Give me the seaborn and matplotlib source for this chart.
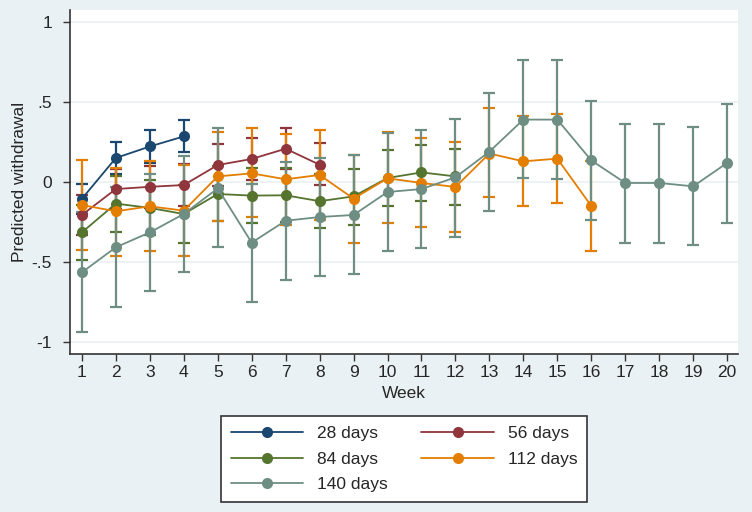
import numpy as np
import pandas as pd
import seaborn as sns
import matplotlib
matplotlib.use('Agg')
import matplotlib.pyplot as plt

sns.set_style('white')
plt.rcParams['font.family'] = ['Liberation Sans', 'DejaVu Sans']

# Predicted withdrawal by week, with 95% CI, for each treatment length
weeks_28 = [1, 2, 3, 4]
mean_28 = [-0.105, 0.15, 0.222, 0.285]
lo_28 = [-0.20, 0.05, 0.12, 0.185]
hi_28 = [-0.012, 0.25, 0.323, 0.387]

weeks_56 = list(range(1, 9))
mean_56 = [-0.206, -0.044, -0.03, -0.019, 0.106, 0.144, 0.208, 0.108]
lo_56 = [-0.33, -0.17, -0.16, -0.148, -0.025, 0.01, 0.08, -0.02]
hi_56 = [-0.08, 0.08, 0.10, 0.11, 0.238, 0.275, 0.337, 0.244]

weeks_84 = list(range(1, 13))
mean_84 = [-0.315, -0.135, -0.162, -0.2, -0.075, -0.085, -0.083, -0.12, -0.09, 0.025, 0.06, 0.035]
lo_84 = [-0.485, -0.31, -0.33, -0.379, -0.246, -0.255, -0.25, -0.29, -0.27, -0.152, -0.117, -0.142]
hi_84 = [-0.145, 0.04, 0.01, -0.02, 0.1, 0.085, 0.085, 0.05, 0.081, 0.198, 0.231, 0.208]

weeks_112 = list(range(1, 17))
mean_112 = [-0.144, -0.183, -0.152, -0.179, 0.035, 0.054, 0.017, 0.044, -0.104, 0.023, -0.006, -0.031,
            0.178, 0.129, 0.146, -0.15]
lo_112 = [-0.423, -0.46, -0.43, -0.465, -0.246, -0.22, -0.27, -0.24, -0.383, -0.256, -0.283, -0.31,
          -0.094, -0.152, -0.131, -0.43]
hi_112 = [0.135, 0.09, 0.13, 0.108, 0.31, 0.335, 0.30, 0.325, 0.171, 0.31, 0.273, 0.248,
          0.4625, 0.41, 0.427, 0.13]

weeks_140 = list(range(1, 21))
mean_140 = [-0.565, -0.408, -0.315, -0.2, -0.04, -0.379, -0.242, -0.219, -0.206, -0.0625, -0.044, 0.029,
            0.19, 0.39, 0.39, 0.135, -0.006, -0.006, -0.027, 0.119]
lo_140 = [-0.935, -0.783, -0.679, -0.565, -0.404, -0.748, -0.61, -0.59, -0.575, -0.43, -0.41, -0.344,
          -0.18, 0.025, 0.02, -0.235, -0.38, -0.38, -0.396, -0.254]
hi_140 = [-0.19, -0.03, 0.05, 0.165, 0.335, -0.01, 0.125, 0.15, 0.167, 0.306, 0.327, 0.396,
          0.556, 0.76, 0.76, 0.504, 0.36, 0.36, 0.344, 0.485]

groups = ['28 days', '56 days', '84 days', '112 days', '140 days']
colors = ['#1a476f', '#90353b', '#55752f', '#e37e00', '#6e8e84']

series = [
    (weeks_28, mean_28, lo_28, hi_28),
    (weeks_56, mean_56, lo_56, hi_56),
    (weeks_84, mean_84, lo_84, hi_84),
    (weeks_112, mean_112, lo_112, hi_112),
    (weeks_140, mean_140, lo_140, hi_140),
]

frames = []
for g, (w, m, lo, hi) in zip(groups, series):
    frames.append(pd.DataFrame({'week': w, 'pred': m, 'lo': lo, 'hi': hi, 'group': g}))
data = pd.concat(frames, ignore_index=True)

bg = '#eaf1f4'
fig = plt.figure(figsize=(7.52, 5.12), dpi=100, facecolor=bg)
ax = fig.add_axes([70 / 752, 1 - 354 / 512, 668 / 752, 344 / 512])
ax.set_facecolor('white')

# confidence intervals
for g, c in zip(groups, colors):
    d = data[data['group'] == g]
    ax.errorbar(d['week'], d['pred'], yerr=[d['pred'] - d['lo'], d['hi'] - d['pred']],
                fmt='none', ecolor=c, elinewidth=1.6, capsize=4.5, capthick=1.6, zorder=2)

sns.lineplot(data=data, x='week', y='pred', hue='group', hue_order=groups, palette=colors,
             estimator=None, marker='o', markersize=8, markeredgewidth=0, linewidth=1.3,
             ax=ax, zorder=3)

ax.set_xlim(0.65, 20.32)
ax.set_ylim(-1.075, 1.075)
ax.set_xticks(range(1, 21))
ax.set_yticks([-1, -0.5, 0, 0.5, 1])
ax.set_yticklabels(['-1', '-.5', '0', '.5', '1'])
ax.tick_params(axis='both', direction='out', length=5, width=1, color='#333333',
               labelsize=12.5, pad=3, left=True, bottom=True)
ax.tick_params(axis='y', pad=8)
ax.grid(True, axis='y', color='#eaf1f4', linewidth=1.2)
for s in ['top', 'right']:
    ax.spines[s].set_visible(False)
for s in ['left', 'bottom']:
    ax.spines[s].set_color('#333333')
    ax.spines[s].set_linewidth(1.2)
ax.set_xlabel('Week', fontsize=12.5, labelpad=4)
ax.set_ylabel('Predicted withdrawal', fontsize=12.5, labelpad=3)

handles, labels = ax.get_legend_handles_labels()
ax.get_legend().remove()
hmap = dict(zip(labels, handles))
order = ['28 days', '84 days', '140 days', '56 days', '112 days']
leg = fig.legend([hmap[k] for k in order], order, ncol=2, loc='center',
                 bbox_to_anchor=(404 / 752, 1 - 459 / 512), fontsize=12.5,
                 frameon=True, fancybox=False, edgecolor='#333333', framealpha=1,
                 handlelength=4.2, handletextpad=0.8, columnspacing=1.9,
                 labelspacing=0.62, borderpad=0.55)
leg.get_frame().set_linewidth(1.2)

fig.savefig('out.png', dpi=100, facecolor=bg)
